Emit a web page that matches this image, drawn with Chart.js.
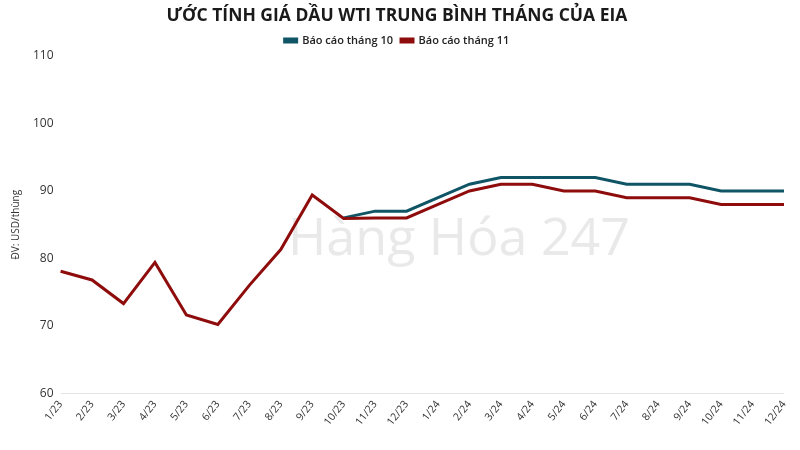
<!DOCTYPE html>
<html>
<head>
<meta charset="utf-8">
<script src="https://cdn.jsdelivr.net/npm/chart.js@4.4.0/dist/chart.umd.min.js"></script>
<style>
  html, body { margin: 0; padding: 0; background: #fff; }
  #wrap { width: 800px; height: 450px; position: relative; }
</style>
</head>
<body>
<div id="wrap"><canvas id="oilChart"></canvas></div>
<script>
// Nhãn tháng
const months = ["1/23", "2/23", "3/23", "4/23", "5/23", "6/23", "7/23", "8/23", "9/23", "10/23", "11/23", "12/23",
  "1/24", "2/24", "3/24", "4/24", "5/24", "6/24", "7/24", "8/24", "9/24", "10/24", "11/24", "12/24"];

// Báo cáo tháng 10 (chỉ phần dự báo)
const reportOct = [null, null, null, null, null, null, null, null, null, 86, 87, 87,
  89, 91, 92, 92, 92, 92, 91, 91, 91, 90, 90, 90];

// Báo cáo tháng 11
const reportNov = [78.1, 76.8, 73.3, 79.4, 71.6, 70.2, 76.0, 81.3, 89.4, 85.9, 86, 86,
  88, 90, 91, 91, 90, 90, 89, 89, 89, 88, 88, 88];

const yTicks = [60, 70, 80, 90, 100, 110];

// Chữ mờ phía sau
const watermark = {
  id: "watermark",
  beforeDatasetsDraw(chart) {
    const c = chart.ctx;
    c.save();
    c.fillStyle = "#e9e9e9";
    c.font = "52px 'Open Sans'";
    c.textBaseline = "alphabetic";
    c.fillText("Hàng Hóa 247", 288, 255);
    c.restore();
  }
};

const ctx = document.getElementById("oilChart").getContext("2d");
new Chart(ctx, {
  type: "line",
  data: {
    labels: months,
    datasets: [
      {
        label: "Báo cáo tháng 10",
        data: reportOct,
        borderColor: "#0f5566",
        backgroundColor: "#0f5566",
        borderWidth: 3,
        pointRadius: 0,
        tension: 0,
        order: 2
      },
      {
        label: "Báo cáo tháng 11",
        data: reportNov,
        borderColor: "#8e0c0c",
        backgroundColor: "#8e0c0c",
        borderWidth: 3,
        pointRadius: 0,
        tension: 0,
        order: 1
      }
    ]
  },
  options: {
    responsive: true,
    maintainAspectRatio: false,
    animation: false,
    layout: { padding: { left: 10, right: 16, top: 0, bottom: 17 } },
    scales: {
      x: {
        offset: false,
        grid: { display: false, drawTicks: false },
        border: { display: false },
        ticks: {
          color: "#333",
          font: { family: "Open Sans", size: 10.5 },
          maxRotation: 52,
          minRotation: 52,
          autoSkip: false,
          padding: 5
        }
      },
      y: {
        min: 60,
        max: 110,
        afterBuildTicks(axis) { axis.ticks = yTicks.map(v => ({ value: v })); },
        grid: {
          color: (c) => c.tick.value === 60 ? "#e3e3e3" : "transparent",
          drawTicks: false
        },
        border: { display: false },
        title: {
          display: true,
          text: "ĐV: USD/thùng",
          color: "#333",
          font: { family: "Open Sans", size: 10 },
          padding: { top: 0, bottom: 4 }
        },
        ticks: {
          color: "#333",
          font: { family: "Open Sans", size: 12 },
          padding: 7
        }
      }
    },
    plugins: {
      title: {
        display: true,
        text: "ƯỚC TÍNH GIÁ DẦU WTI TRUNG BÌNH THÁNG CỦA EIA",
        color: "#1a1a1a",
        font: { family: "Open Sans", size: 17.5, weight: "bold" },
        padding: { top: 6, bottom: 0 }
      },
      legend: {
        display: true,
        labels: {
          color: "#222",
          font: { family: "Open Sans", size: 11, weight: "600" },
          boxWidth: 12,
          boxHeight: 3,
          padding: 8,
          sort: (a, b) => a.datasetIndex - b.datasetIndex
        }
      },
      tooltip: { enabled: false }
    }
  },
  plugins: [watermark]
});
</script>
</body>
</html>
